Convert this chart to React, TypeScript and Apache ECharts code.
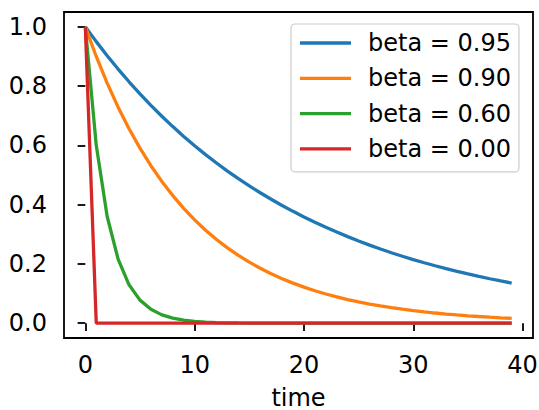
import React, { useEffect, useRef } from "react";
import * as echarts from "echarts";

const time = Array.from({ length: 40 }, (_, i) => i);

const beta095 = [
  1, 0.95, 0.9025, 0.8574, 0.8145, 0.7738, 0.7351, 0.6983, 0.6634, 0.6302,
  0.5987, 0.5688, 0.5404, 0.5133, 0.4877, 0.4633, 0.4401, 0.4181, 0.3972, 0.3774,
  0.3585, 0.3406, 0.3235, 0.3074, 0.292, 0.2774, 0.2635, 0.2503, 0.2378, 0.2259,
  0.2146, 0.2039, 0.1937, 0.184, 0.1748, 0.1661, 0.1578, 0.1499, 0.1424, 0.1353,
];
const beta090 = [
  1, 0.9, 0.81, 0.729, 0.6561, 0.5905, 0.5314, 0.4783, 0.4305, 0.3874,
  0.3487, 0.3138, 0.2824, 0.2542, 0.2288, 0.2059, 0.1853, 0.1668, 0.1501, 0.1351,
  0.1216, 0.1094, 0.0985, 0.0886, 0.0798, 0.0718, 0.0646, 0.0581, 0.0523, 0.0471,
  0.0424, 0.0382, 0.0343, 0.0309, 0.0278, 0.025, 0.0225, 0.0203, 0.0182, 0.0164,
];
const beta060 = [
  1, 0.6, 0.36, 0.216, 0.1296, 0.0778, 0.0467, 0.028, 0.0168, 0.0101,
  0.006, 0.0036, 0.0022, 0.0013, 0.0008, 0.0005, 0.0003, 0.0002, 0.0001, 0.0001,
  0, 0, 0, 0, 0, 0, 0, 0, 0, 0,
  0, 0, 0, 0, 0, 0, 0, 0, 0, 0,
];
const beta000 = [
  1, 0, 0, 0, 0, 0, 0, 0, 0, 0,
  0, 0, 0, 0, 0, 0, 0, 0, 0, 0,
  0, 0, 0, 0, 0, 0, 0, 0, 0, 0,
  0, 0, 0, 0, 0, 0, 0, 0, 0, 0,
];

const seriesNames = ["beta = 0.95", "beta = 0.90", "beta = 0.60", "beta = 0.00"];
const seriesColors = ["#1f77b4", "#ff7f0e", "#2ca02c", "#d62728"];
const xTicks = [0, 10, 20, 30, 40];
const yTicks = [0, 0.2, 0.4, 0.6, 0.8, 1.0];

const FONT = "DejaVu Sans";
const FS = 24;

export default function App() {
  const ref = useRef<HTMLDivElement>(null);
  useEffect(() => {
    document.body.style.margin = "0";
    if (!ref.current) return;
    const chart = echarts.init(ref.current, undefined, { renderer: "svg" });
    const allData = [beta095, beta090, beta060, beta000];
    chart.setOption({
      animation: false,
      backgroundColor: "#ffffff",
      textStyle: { fontFamily: FONT },
      grid: {
        left: 64,
        top: 12,
        width: 469,
        height: 326,
        outerBoundsMode: "none",
        outerBounds: { left: -500, top: -500, right: -500, bottom: -500 },
        show: true,
        borderColor: "#000000",
        borderWidth: 1.8,
        backgroundColor: "transparent",
      },
      legend: {
        orient: "vertical",
        left: 291,
        top: 24,
        padding: [5, 8, 9, 9],
        itemGap: 7.3,
        itemWidth: 51,
        itemHeight: 3.3,
        icon: "rect",
        backgroundColor: "rgba(255,255,255,0.8)",
        borderColor: "#cccccc",
        borderWidth: 1.2,
        borderRadius: 4,
        textStyle: {
          fontFamily: FONT,
          fontSize: FS,
          lineHeight: 28,
          color: "#000000",
          padding: [0, 0, 0, 12],
        },
        data: seriesNames,
      },
      xAxis: {
        type: "value",
        min: -1.95,
        max: 40.95,
        name: "time",
        nameLocation: "middle",
        nameGap: 49,
        nameTextStyle: { fontFamily: FONT, fontSize: FS, lineHeight: 22, color: "#000000" },
        axisLine: { show: false },
        splitLine: { show: false },
        axisTick: {
          show: true,
          length: 7.7,
          customValues: xTicks,
          lineStyle: { color: "#000000", width: 1.8 },
        },
        axisLabel: {
          customValues: xTicks,
          fontFamily: FONT,
          fontSize: FS,
          color: "#000000",
          margin: 15,
        },
      },
      yAxis: {
        type: "value",
        min: -0.05,
        max: 1.05,
        axisLine: { show: false },
        splitLine: { show: false },
        axisTick: {
          show: true,
          length: 7.7,
          customValues: yTicks,
          lineStyle: { color: "#000000", width: 1.8 },
        },
        axisLabel: {
          customValues: yTicks,
          fontFamily: FONT,
          fontSize: FS,
          color: "#000000",
          margin: 17,
          formatter: (v: number) => v.toFixed(1),
        },
      },
      series: allData.map((d, i) => ({
        name: seriesNames[i],
        type: "line",
        data: d.map((v, j) => [time[j], v]),
        showSymbol: false,
        symbol: "none",
        color: seriesColors[i],
        lineStyle: { width: 3.3, color: seriesColors[i] },
        itemStyle: { color: seriesColors[i] },
        z: 2 + i,
      })),
    });
    return () => chart.dispose();
  }, []);
  return <div ref={ref} style={{ width: 539, height: 410 }} />;
}
